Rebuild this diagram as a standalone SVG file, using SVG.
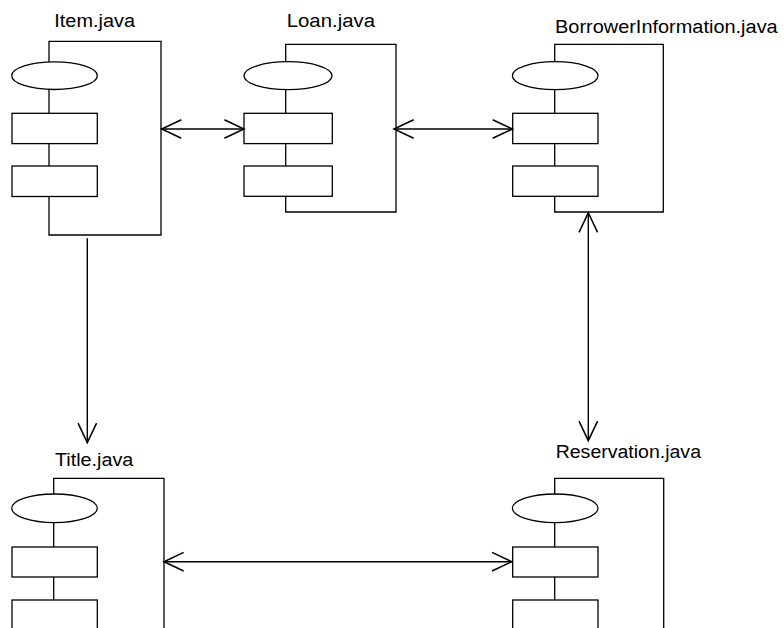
<svg xmlns="http://www.w3.org/2000/svg" width="784" height="628" viewBox="0 0 784 628">
  <style>
    .frame { fill: none; stroke: #000; stroke-width: 1.3; }
    .part { fill: #fff; stroke: #000; stroke-width: 1.3; }
    .label { font-family: "Liberation Sans", Arial, sans-serif; font-size: 18px; fill: #000; }
    .link { fill: none; stroke: #000; stroke-width: 1.4; }
  </style>
  <defs>
    <marker id="open-arrow" markerUnits="userSpaceOnUse" markerWidth="24" markerHeight="24"
            viewBox="-20 -10 22 20" refX="0" refY="0" orient="auto-start-reverse" overflow="visible">
      <path d="M -18 -8.5 L 0 0 L -18 8.5" fill="none" stroke="#000" stroke-width="1.4"/>
    </marker>
  </defs>
  <rect width="784" height="628" fill="#fff"/>

  <!-- Item.java component -->
  <g id="item">
    <text class="label" x="54.3" y="26.7" textLength="80.7" lengthAdjust="spacingAndGlyphs">Item.java</text>
    <path class="frame" d="M 49 62 V 41.3 H 161 V 235 H 49 V 196"/>
    <line class="frame" x1="49" y1="89" x2="49" y2="113"/>
    <line class="frame" x1="49" y1="143" x2="49" y2="166"/>
    <ellipse class="part" cx="54.5" cy="75.7" rx="42.8" ry="13.8"/>
    <rect class="part" x="12" y="113.3" width="85.3" height="30.3"/>
    <rect class="part" x="12" y="166" width="85.3" height="30.5"/>
  </g>

  <!-- Loan.java component -->
  <g id="loan">
    <text class="label" x="286.7" y="26.7" textLength="88.3" lengthAdjust="spacingAndGlyphs">Loan.java</text>
    <path class="frame" d="M 285.7 62 V 44.3 H 396 V 212 H 285.7 V 196"/>
    <line class="frame" x1="285.7" y1="89" x2="285.7" y2="113"/>
    <line class="frame" x1="285.7" y1="143" x2="285.7" y2="166"/>
    <ellipse class="part" cx="288" cy="75.7" rx="44" ry="14"/>
    <rect class="part" x="244" y="113.3" width="88.3" height="30.3"/>
    <rect class="part" x="244" y="166" width="88.3" height="30.3"/>
  </g>

  <!-- BorrowerInformation.java component -->
  <g id="borrower">
    <text class="label" x="555" y="33.3" textLength="222.7" lengthAdjust="spacingAndGlyphs">BorrowerInformation.java</text>
    <path class="frame" d="M 554.7 62 V 44.3 H 663.3 V 212 H 554.7 V 196"/>
    <line class="frame" x1="554.7" y1="89" x2="554.7" y2="113"/>
    <line class="frame" x1="554.7" y1="143" x2="554.7" y2="166"/>
    <ellipse class="part" cx="555.2" cy="75.7" rx="42.8" ry="14"/>
    <rect class="part" x="512.7" y="113.3" width="85.3" height="30.3"/>
    <rect class="part" x="512.7" y="166" width="85.3" height="30.3"/>
  </g>

  <!-- Title.java component -->
  <g id="title">
    <text class="label" x="55" y="465.7" textLength="78.3" lengthAdjust="spacingAndGlyphs">Title.java</text>
    <path class="frame" d="M 53.7 494 V 478.3 H 164 V 700"/>
    <line class="frame" x1="53.7" y1="522" x2="53.7" y2="547"/>
    <line class="frame" x1="53.7" y1="577" x2="53.7" y2="600"/>
    <ellipse class="part" cx="54.5" cy="508.3" rx="42.8" ry="14.3"/>
    <rect class="part" x="12" y="547" width="85.3" height="30"/>
    <rect class="part" x="12" y="600" width="85.3" height="40"/>
  </g>

  <!-- Reservation.java component -->
  <g id="reservation">
    <text class="label" x="555.7" y="457.7" textLength="145.3" lengthAdjust="spacingAndGlyphs">Reservation.java</text>
    <path class="frame" d="M 554.7 494 V 478.3 H 663.7 V 700"/>
    <line class="frame" x1="554.7" y1="522" x2="554.7" y2="547"/>
    <line class="frame" x1="554.7" y1="577" x2="554.7" y2="600"/>
    <ellipse class="part" cx="555.2" cy="508.3" rx="42.8" ry="14.3"/>
    <rect class="part" x="512.7" y="547" width="85.3" height="30"/>
    <rect class="part" x="512.7" y="600" width="85.3" height="40"/>
  </g>

  <!-- Connectors -->
  <g id="connectors">
    <line class="link" x1="161.7" y1="129" x2="244" y2="129" marker-start="url(#open-arrow)" marker-end="url(#open-arrow)"/>
    <line class="link" x1="394" y1="129" x2="512.3" y2="129" marker-start="url(#open-arrow)" marker-end="url(#open-arrow)"/>
    <line class="link" x1="87.3" y1="238.3" x2="87.3" y2="442.7" marker-end="url(#open-arrow)"/>
    <line class="link" x1="588.3" y1="212.7" x2="588.3" y2="440.7" marker-start="url(#open-arrow)" marker-end="url(#open-arrow)"/>
    <line class="link" x1="164" y1="561.7" x2="511.7" y2="561.7" marker-start="url(#open-arrow)" marker-end="url(#open-arrow)"/>
  </g>
</svg>
